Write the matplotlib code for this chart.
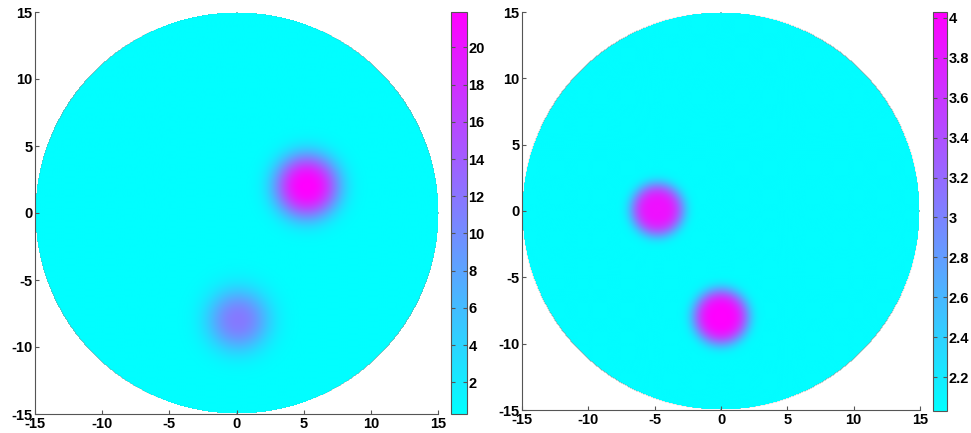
import numpy as np
import matplotlib
matplotlib.use("Agg")
import matplotlib.pyplot as plt

plt.rcParams['font.family'] = ['Liberation Sans', 'DejaVu Sans']
plt.rcParams['font.weight'] = 'bold'
plt.rcParams['axes.unicode_minus'] = False

# disk radius and tick values
radius = 15
axis_ticks = [-15, -10, -5, 0, 5, 10, 15]

# left panel: background level and blobs (x, y, peak, width, sharpness)
left_base = 0.4
left_blob_x = [5.2, 0.1]
left_blob_y = [2.0, -8.0]
left_blob_peak = [21.5, 11.2]
left_blob_width = [2.4, 2.3]
left_blob_pow = [2.8, 2.4]
left_clim = (0.3, 21.9)
left_cticks = [2, 4, 6, 8, 10, 12, 14, 16, 18, 20]

# right panel
right_base = 2.05
right_blob_x = [-4.8, 0.0]
right_blob_y = [0.1, -8.0]
right_blob_peak = [1.85, 1.98]
right_blob_width = [2.0, 2.1]
right_blob_pow = [4.0, 4.0]
right_clim = (2.03, 4.03)
right_cticks = [2.2, 2.4, 2.6, 2.8, 3, 3.2, 3.4, 3.6, 3.8, 4]


def make_field(base, bx, by, peak, width, pw):
    g = np.linspace(-radius, radius, 401)
    X, Y = np.meshgrid(g, g)
    Z = np.full_like(X, base)
    for i in range(len(bx)):
        r = np.hypot(X - bx[i], Y - by[i])
        Z += peak[i] * np.exp(-(r / width[i]) ** pw[i])
    return np.ma.masked_where(np.hypot(X, Y) > radius, Z)


def draw_panel(fig, ax_rect, cb_rect, Z, clim, cticks):
    ax = fig.add_axes(ax_rect)
    im = ax.imshow(Z, origin='lower', extent=(-radius, radius, -radius, radius),
                   cmap='cool', vmin=clim[0], vmax=clim[1], interpolation='bilinear',
                   aspect='auto')
    ax.set_xlim(-radius, radius)
    ax.set_ylim(-radius, radius)
    ax.set_xticks(axis_ticks)
    ax.set_yticks(axis_ticks)
    ax.spines['top'].set_visible(False)
    ax.spines['right'].set_visible(False)
    for s in ['left', 'bottom']:
        ax.spines[s].set_color('#555555')
        ax.spines[s].set_linewidth(0.8)
    ax.tick_params(direction='in', length=3, labelsize=10.5, color='#555555', pad=2)
    cax = fig.add_axes(cb_rect)
    cb = fig.colorbar(im, cax=cax)
    cb.set_ticks(cticks)
    cb.set_ticklabels([('%g' % t) for t in cticks])
    cb.outline.set_edgecolor('#555555')
    cb.outline.set_linewidth(0.8)
    cax.tick_params(direction='in', length=3, labelsize=10.5, color='#555555', pad=1,
                    left=True, right=True)
    return ax


W, H = 971, 433
fig = plt.figure(figsize=(W / 100, H / 100), dpi=100)

Zl = make_field(left_base, left_blob_x, left_blob_y, left_blob_peak, left_blob_width, left_blob_pow)
Zr = make_field(right_base, right_blob_x, right_blob_y, right_blob_peak, right_blob_width, right_blob_pow)

draw_panel(fig, [35 / W, 1 - 414 / H, 403 / W, 402 / H],
           [451 / W, 1 - 414 / H, 16 / W, 402 / H], Zl, left_clim, left_cticks)
draw_panel(fig, [522 / W, 1 - 410 / H, 398 / W, 398 / H],
           [933 / W, 1 - 411 / H, 14 / W, 399 / H], Zr, right_clim, right_cticks)

fig.savefig('out.png', dpi=100)
